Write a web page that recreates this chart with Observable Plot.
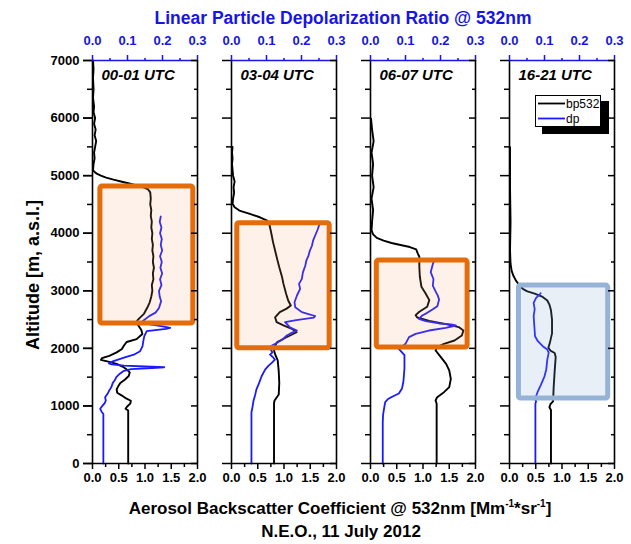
<!DOCTYPE html>
<html><head><meta charset="utf-8">
<script src="https://cdn.jsdelivr.net/npm/d3@7"></script>
<script src="https://cdn.jsdelivr.net/npm/@observablehq/plot@0.6"></script>
<style>
body{margin:0;background:#fff;font-family:"Liberation Sans",Arial,sans-serif;}
#wrap{position:relative;width:631px;height:544px;overflow:hidden;}
#wrap svg.plot{position:absolute;left:0;top:0;}
.t{position:absolute;font-weight:bold;white-space:nowrap;transform:translate(-50%,-50%);}
.t sup{font-size:10px;vertical-align:7px;line-height:0;}
</style></head><body>
<div id="wrap"></div>
<script>
// ---- data ----
const panels = ["00-01 UTC", "03-04 UTC", "06-07 UTC", "16-21 UTC"];

// [altitude (m), backscatter (Mm-1 sr-1)]
const bp_0001 = [[0,0.68],[920,0.68],[950,0.63],[990,0.66],[1040,0.72],[1090,0.73],[1130,0.64],[1180,0.56],[1230,0.47],[1290,0.46],[1340,0.49],[1400,0.53],[1460,0.62],[1520,0.69],[1580,0.71],[1630,0.66],[1680,0.58],[1730,0.46],[1770,0.30],[1800,0.16],[1830,0.18],[1870,0.32],[1930,0.46],[1990,0.56],[2050,0.60],[2110,0.65],[2160,0.84],[2250,0.95],[2320,0.93],[2400,0.87],[2450,0.84],[2480,0.85],[2530,0.90],[2600,0.98],[2700,1.04],[2800,1.09],[2900,1.12],[3000,1.14],[3100,1.13],[3200,1.16],[3300,1.15],[3400,1.17],[3500,1.15],[3600,1.16],[3700,1.14],[3800,1.15],[3900,1.13],[4000,1.14],[4100,1.12],[4200,1.13],[4300,1.11],[4400,1.12],[4500,1.10],[4600,1.11],[4710,1.10],[4760,1.06],[4800,0.96],[4830,0.84],[4860,0.72],[4890,0.58],[4930,0.40],[4965,0.26],[5000,0.16],[5035,0.08],[5070,0.03],[5100,0.01],[5200,0.02],[5300,0.04],[5400,0.03],[5500,0.05],[5600,0.07],[5700,0.04],[5800,0.06],[5900,0.03],[6000,0.05],[6100,0.02],[6200,0.03],[6350,0.01],[6500,0.02],[6700,0.01],[6850,0.02],[7000,0.01]];
const bp_0304 = [[0,0.81],[1050,0.81],[1094,0.82],[1200,0.90],[1400,0.91],[1600,0.90],[1790,0.88],[1900,0.83],[1963,0.81],[2050,0.83],[2107,0.87],[2180,1.02],[2280,1.24],[2340,1.15],[2400,0.99],[2455,0.86],[2540,0.83],[2630,0.92],[2690,1.05],[2745,1.13],[2830,1.08],[2950,1.04],[3120,0.99],[3250,0.96],[3410,0.91],[3550,0.87],[3700,0.83],[3850,0.79],[3990,0.76],[4160,0.72],[4220,0.68],[4277,0.54],[4335,0.35],[4393,0.15],[4450,0.06],[4510,0.02],[4600,0.03],[4700,0.05],[4800,0.04],[4900,0.06],[5000,0.03],[5100,0.02],[5200,0.01],[5300,0.02],[5400,0.01],[5500,0.02]];
const bp_0607 = [[0,1.26],[1037,1.26],[1094,1.24],[1152,1.27],[1239,1.40],[1326,1.50],[1471,1.53],[1616,1.50],[1731,1.44],[1847,1.34],[1963,1.24],[2020,1.27],[2079,1.40],[2137,1.60],[2223,1.74],[2310,1.77],[2370,1.68],[2420,1.44],[2478,1.12],[2536,0.89],[2577,0.86],[2636,0.93],[2722,1.08],[2838,1.12],[2954,1.05],[3070,0.97],[3244,0.94],[3417,0.93],[3591,0.93],[3650,0.90],[3720,0.87],[3760,0.75],[3800,0.55],[3830,0.40],[3870,0.25],[3920,0.12],[3980,0.05],[4050,0.02],[4200,0.03],[4400,0.05],[4600,0.02],[4800,0.06],[5000,0.03],[5200,0.05],[5400,0.02],[5600,0.06],[5800,0.03],[5990,0.01]];
const bp_1621 = [[0,0.79],[930,0.79],[975,0.76],[1030,0.78],[1080,0.83],[1300,0.84],[1600,0.86],[1850,0.88],[1920,0.86],[1960,0.78],[2010,0.74],[2100,0.77],[2260,0.81],[2500,0.81],[2660,0.79],[2760,0.76],[2832,0.72],[2900,0.62],[2950,0.48],[2990,0.34],[3030,0.26],[3080,0.20],[3130,0.16],[3180,0.12],[3270,0.07],[3350,0.04],[3470,0.02],[3700,0.01],[4200,0.02],[4800,0.01],[5494,0.01]];

// [altitude (m), linear particle depolarization ratio]
const dp_0001 = [[0,0.031],[860,0.031],[900,0.026],[950,0.022],[1000,0.028],[1050,0.035],[1094,0.038],[1150,0.036],[1210,0.043],[1270,0.048],[1330,0.054],[1400,0.058],[1450,0.064],[1500,0.068],[1560,0.078],[1610,0.090],[1640,0.110],[1656,0.170],[1672,0.205],[1685,0.150],[1700,0.090],[1720,0.055],[1740,0.047],[1780,0.060],[1840,0.090],[1890,0.118],[1950,0.136],[2040,0.143],[2120,0.145],[2213,0.148],[2300,0.155],[2340,0.210],[2357,0.222],[2380,0.200],[2420,0.160],[2450,0.140],[2480,0.145],[2560,0.162],[2620,0.180],[2700,0.190],[2820,0.196],[2900,0.192],[3000,0.190],[3100,0.197],[3200,0.193],[3300,0.199],[3400,0.194],[3500,0.198],[3600,0.193],[3700,0.199],[3800,0.195],[3900,0.198],[4000,0.193],[4100,0.197],[4200,0.192],[4290,0.195]];
const dp_0304 = [[0,0.057],[890,0.057],[980,0.060],[1094,0.063],[1200,0.068],[1283,0.071],[1400,0.079],[1515,0.086],[1631,0.096],[1700,0.106],[1747,0.115],[1805,0.124],[1850,0.118],[1892,0.110],[1930,0.117],[1980,0.112],[2040,0.113],[2080,0.125],[2150,0.145],[2223,0.158],[2270,0.172],[2310,0.187],[2360,0.168],[2455,0.153],[2490,0.185],[2533,0.235],[2562,0.239],[2595,0.220],[2629,0.201],[2715,0.182],[2802,0.180],[2918,0.187],[3033,0.196],[3120,0.193],[3207,0.201],[3320,0.204],[3439,0.211],[3530,0.214],[3612,0.220],[3700,0.224],[3786,0.230],[3870,0.233],[3960,0.239],[4060,0.246],[4133,0.250],[4170,0.254]];
const dp_0607 = [[0,0.035],[718,0.035],[850,0.036],[1000,0.040],[1065,0.042],[1120,0.050],[1160,0.062],[1217,0.081],[1304,0.090],[1420,0.094],[1651,0.097],[1883,0.097],[1930,0.090],[1991,0.081],[2040,0.092],[2079,0.100],[2195,0.110],[2252,0.129],[2310,0.167],[2356,0.215],[2397,0.244],[2415,0.230],[2432,0.196],[2473,0.158],[2513,0.138],[2571,0.148],[2617,0.162],[2675,0.177],[2733,0.191],[2849,0.196],[2920,0.192],[2976,0.187],[3091,0.178],[3200,0.180],[3323,0.172],[3439,0.177],[3500,0.180],[3540,0.190],[3555,0.205]];
const dp_1621 = [[0,0.074],[1037,0.074],[1080,0.076],[1120,0.073],[1167,0.076],[1254,0.081],[1370,0.090],[1515,0.100],[1631,0.105],[1805,0.108],[1921,0.112],[1980,0.108],[2037,0.095],[2124,0.081],[2211,0.073],[2385,0.071],[2558,0.069],[2680,0.072],[2790,0.069],[2877,0.076],[2935,0.086],[2958,0.089]];

// highlighted layers: [panel, bp from, bp to, altitude from, altitude to, kind]
const boxes = [
  ["00-01 UTC", 0.15, 1.92, 2430, 4810, "aerosol"],
  ["03-04 UTC", 0.11, 1.87, 2000, 4175, "aerosol"],
  ["06-07 UTC", 0.12, 1.85, 2015, 3525, "aerosol"],
  ["16-21 UTC", 0.18, 1.88, 1130, 3090, "clean"]
];

const yTicks = [0, 1000, 2000, 3000, 4000, 5000, 6000, 7000];
const yMinor = [500, 1500, 2500, 3500, 4500, 5500, 6500];
const bpTicks = [0, 0.5, 1.0, 1.5, 2.0];
const bpMinor = [0.25, 0.75, 1.25, 1.75];
const dpTicks = [0, 0.1, 0.2, 0.3];
const dpMinor = [0.05, 0.15, 0.25];

// ---- chart ----
const BLUE = "#1a1aff";
const AXBLUE = "#1515e6";
const BP_MAX = 2, DP_MAX = 0.3;
const dpToX = v => v / DP_MAX * BP_MAX;
const noLabel = () => "";

const bpRows = [bp_0001, bp_0304, bp_0607, bp_1621].flatMap((a, i) => a.map(([alt, v]) => ({panel: panels[i], alt, v})));
const dpRows = [dp_0001, dp_0304, dp_0607, dp_1621].flatMap((a, i) => a.map(([alt, v]) => ({panel: panels[i], alt, v})));
const boxRows = boxes.map(([panel, x1, x2, y1, y2, kind]) => ({panel, x1, x2, y1, y2, kind}));

const chart = Plot.plot({
  width: 631, height: 544,
  marginTop: 60, marginBottom: 81, marginLeft: 92, marginRight: 17,
  style: {fontFamily: '"Liberation Sans", Arial, sans-serif', fontSize: "13px", fontWeight: "bold", background: "white"},
  fx: {domain: panels, paddingInner: 0.245, paddingOuter: 0, axis: null, label: null},
  x: {domain: [0, BP_MAX]},
  y: {domain: [0, 7000]},
  marks: [
    Plot.line(bpRows, {fx: "panel", x: "v", y: "alt", stroke: "black", strokeWidth: 1.9}),
    Plot.line(dpRows, {fx: "panel", x: d => dpToX(d.v), y: "alt", stroke: BLUE, strokeWidth: 1.8}),
    Plot.rect(boxRows.filter(d => d.kind === "aerosol"), {fx: "panel", x1: "x1", x2: "x2", y1: "y1", y2: "y2", fill: "#f2a070", fillOpacity: 0.15, stroke: "#e46c0a", strokeWidth: 5, rx: 2}),
    Plot.rect(boxRows.filter(d => d.kind === "clean"), {fx: "panel", x1: "x1", x2: "x2", y1: "y1", y2: "y2", fill: "#8fb0d8", fillOpacity: 0.2, stroke: "#95b3d7", strokeWidth: 5, rx: 2}),
    Plot.ruleX([0, BP_MAX], {stroke: "black", strokeWidth: 1.6}),
    Plot.ruleY([0], {stroke: "black", strokeWidth: 1.6}),
    Plot.ruleY([7000], {stroke: AXBLUE, strokeWidth: 1.6}),
    Plot.axisX(bpTicks, {anchor: "bottom", tickSize: 6, tickPadding: 3, strokeWidth: 1.5, fontSize: 13, tickFormat: d => d.toFixed(1), label: null}),
    Plot.axisX(bpMinor, {anchor: "bottom", tickSize: 4, strokeWidth: 1.5, tickFormat: noLabel, label: null}),
    Plot.axisX(dpTicks.map(dpToX), {anchor: "top", tickSize: 6, tickPadding: 10, strokeWidth: 1.5, fontSize: 13, color: AXBLUE, tickFormat: d => (d / BP_MAX * DP_MAX).toFixed(1), label: null}),
    Plot.axisX(dpMinor.map(dpToX), {anchor: "top", tickSize: 3, strokeWidth: 1.5, color: AXBLUE, tickFormat: noLabel, label: null}),
    Plot.axisY(yTicks, {anchor: "left", tickSize: 9, tickPadding: 4, strokeWidth: 1.5, fontSize: 13, tickFormat: d => String(d), label: null}),
    Plot.axisY(yTicks, {anchor: "left", tickSize: 9, strokeWidth: 1.5, tickFormat: noLabel, label: null, facetAnchor: null}),
    Plot.axisY(yMinor, {anchor: "left", tickSize: 5, strokeWidth: 1.5, tickFormat: noLabel, label: null, facetAnchor: null}),
    Plot.axisY(yTicks, {anchor: "right", tickSize: 7, dx: -7, strokeWidth: 1.5, tickFormat: noLabel, label: null, facetAnchor: null}),
    Plot.axisY(yMinor, {anchor: "right", tickSize: 4, dx: -4, strokeWidth: 1.5, tickFormat: noLabel, label: null, facetAnchor: null}),
    Plot.text(panels, {fx: d => d, text: d => d, frameAnchor: "top-left", textAnchor: "start", lineAnchor: "top", dx: 9, dy: 9, fontSize: 15, fontWeight: "bold", fontStyle: "italic", fill: "black"})
  ]
});
chart.classList.add("plot");
const wrap = document.getElementById("wrap");
wrap.appendChild(chart);

function addText(html, x, y, size, color, extra) {
  const d = document.createElement("div");
  d.className = "t";
  d.innerHTML = html;
  d.style.left = x + "px";
  d.style.top = y + "px";
  d.style.fontSize = size + "px";
  d.style.color = color;
  if (extra) d.style.transform = extra;
  wrap.appendChild(d);
}
addText("Linear Particle Depolarization Ratio @ 532nm", 343, 18, 17.5, AXBLUE);
addText("Aerosol Backscatter Coefficient @ 532nm [Mm<sup>-1</sup>*sr<sup>-1</sup>]", 340, 509, 17, "black");
addText("N.E.O., 11 July 2012", 341, 532, 17, "black");
addText("Altitude [m, a.s.l.]", 33, 275, 18, "black", "translate(-50%,-50%) rotate(-90deg)");

// legend
const leg = document.createElementNS("http://www.w3.org/2000/svg", "svg");
leg.setAttribute("width", 80); leg.setAttribute("height", 45);
leg.style.position = "absolute"; leg.style.left = "534px"; leg.style.top = "94px";
leg.innerHTML = `
<rect x="8" y="7" width="67" height="33" fill="black"/>
<rect x="1.5" y="1.5" width="65" height="31" fill="white" stroke="black" stroke-width="1"/>
<line x1="4" x2="31" y1="9.5" y2="9.5" stroke="black" stroke-width="1.8"/>
<text x="32" y="13.5" font-family="Liberation Sans, Arial, sans-serif" font-size="12">bp532</text>
<line x1="4" x2="31" y1="24.5" y2="24.5" stroke="${BLUE}" stroke-width="1.8"/>
<text x="32" y="28.5" font-family="Liberation Sans, Arial, sans-serif" font-size="12">dp</text>`;
wrap.appendChild(leg);
</script>
</body></html>
